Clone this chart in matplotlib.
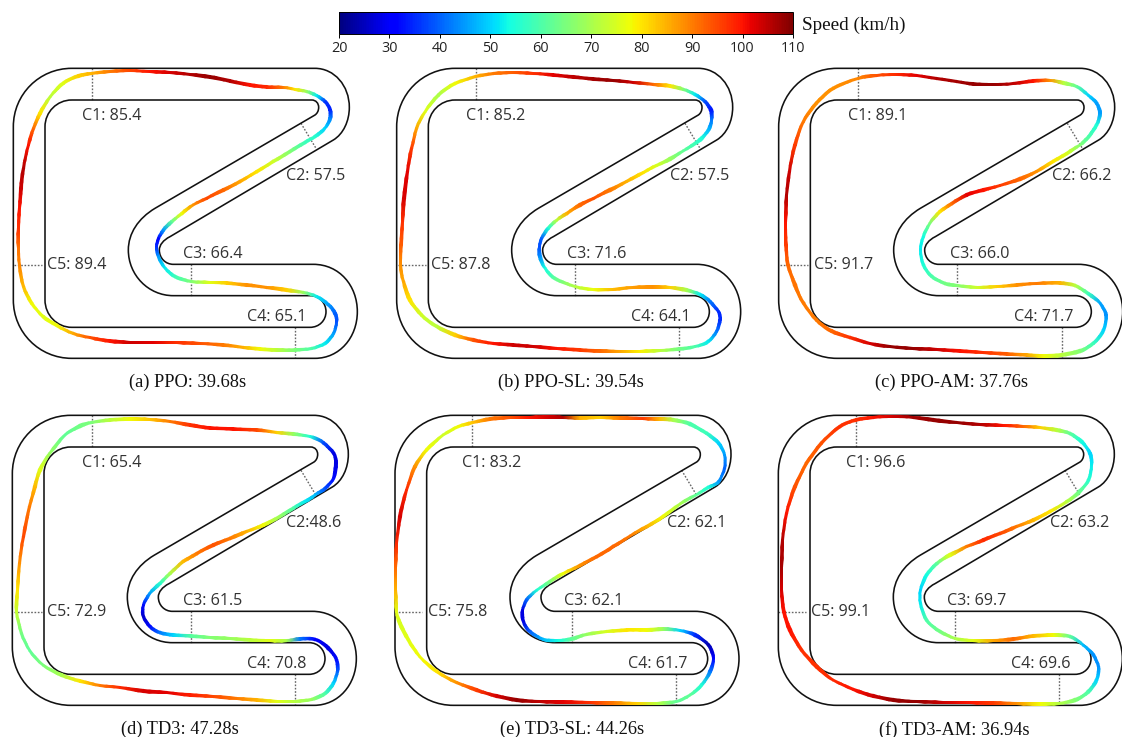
from __future__ import annotations

import matplotlib

matplotlib.use("Agg")
import matplotlib.pyplot as plt
import numpy as np
from matplotlib.cm import ScalarMappable
from matplotlib.colors import Normalize
from matplotlib.patches import PathPatch
from matplotlib.path import Path

# racing lines in track units (1 unit = 1/3 px), speed in km/h
PPO_X = [275, 330, 390, 450, 510, 570, 630, 690, 750, 800, 850, 885, 920, 950, 975, 990, 990, 975, 945, 915, 870, 820, 770, 720, 670, 620, 580, 545, 515, 490, 475, 470, 475, 495, 525, 575, 630, 680, 740, 800, 860, 910, 950, 985, 1005, 1010, 1000, 975, 935, 885, 830, 780, 730, 670, 600, 530, 460, 390, 330, 270, 220, 170, 130, 95, 70, 58, 55, 55, 58, 63, 70, 85, 100, 120, 150, 190, 235, 275]
PPO_Y = [55, 49, 47, 50, 53, 58, 66, 78, 90, 96, 97, 103, 110, 122, 140, 165, 190, 220, 245, 262, 290, 320, 350, 380, 405, 430, 450, 475, 500, 525, 550, 575, 605, 640, 665, 680, 682, 684, 690, 697, 705, 712, 725, 748, 775, 800, 835, 865, 880, 885, 885, 882, 877, 870, 865, 863, 863, 862, 858, 848, 835, 812, 785, 745, 695, 630, 580, 520, 460, 400, 340, 270, 220, 175, 125, 85, 63, 55]
PPO_SPEED = [85, 90, 95, 100, 103, 106, 108, 106, 100, 98, 90, 80, 68, 52, 36, 34, 43, 50, 56, 58, 66, 74, 80, 86, 92, 95, 88, 78, 62, 45, 30, 35, 45, 52, 58, 66, 76, 82, 88, 88, 82, 68, 52, 45, 40, 38, 45, 52, 60, 65, 72, 78, 85, 90, 94, 97, 102, 104, 100, 94, 86, 78, 76, 78, 84, 89, 91, 97, 100, 104, 106, 100, 92, 80, 72, 76, 82, 85]

PPO_SL_X = [287, 340, 400, 460, 520, 580, 640, 700, 760, 820, 870, 910, 945, 975, 993, 995, 985, 965, 945, 910, 870, 830, 790, 740, 690, 640, 600, 560, 530, 505, 485, 478, 480, 495, 525, 585, 640, 700, 760, 820, 870, 920, 960, 990, 1015, 1020, 1010, 985, 945, 897, 840, 780, 720, 660, 600, 530, 460, 400, 340, 280, 225, 170, 125, 90, 70, 62, 63, 67, 72, 82, 95, 110, 135, 175, 225, 287]
PPO_SL_Y = [65, 56, 53, 55, 60, 66, 72, 77, 82, 88, 93, 103, 118, 140, 165, 195, 225, 250, 265, 288, 312, 332, 352, 380, 405, 430, 450, 475, 495, 520, 550, 575, 605, 640, 670, 695, 703, 703, 697, 696, 697, 705, 718, 740, 770, 795, 830, 860, 875, 882, 887, 889, 889, 888, 885, 880, 875, 870, 865, 855, 840, 815, 780, 735, 680, 630, 570, 500, 430, 350, 280, 220, 170, 120, 85, 65]
PPO_SL_SPEED = [85, 90, 93, 97, 102, 105, 107, 108, 104, 92, 80, 66, 52, 38, 33, 42, 48, 55, 58, 62, 68, 75, 80, 85, 90, 94, 92, 85, 72, 55, 40, 38, 44, 54, 62, 71, 77, 84, 87, 88, 82, 70, 52, 42, 35, 35, 42, 52, 60, 64, 72, 79, 86, 92, 96, 100, 104, 104, 100, 94, 82, 72, 74, 80, 86, 88, 93, 97, 103, 102, 96, 86, 76, 70, 78, 85]

PPO_AM_X = [294, 350, 410, 470, 530, 590, 640, 700, 760, 820, 870, 910, 950, 985, 1010, 1020, 1010, 985, 960, 920, 880, 830, 780, 720, 670, 620, 575, 540, 510, 490, 482, 490, 515, 555, 592, 650, 710, 770, 830, 900, 945, 985, 1020, 1038, 1030, 1000, 960, 905, 850, 800, 740, 670, 600, 530, 460, 390, 330, 270, 215, 170, 130, 105, 84, 78, 77, 80, 88, 105, 130, 170, 220, 294]
PPO_AM_Y = [70, 61, 59, 62, 70, 80, 87, 89, 86, 78, 76, 84, 95, 120, 145, 175, 210, 245, 270, 295, 320, 350, 372, 392, 405, 420, 445, 470, 505, 545, 585, 630, 665, 685, 692, 697, 695, 690, 685, 684, 692, 715, 745, 780, 825, 865, 888, 900, 903, 900, 897, 892, 888, 883, 880, 875, 865, 848, 828, 795, 745, 690, 630, 570, 500, 420, 350, 270, 200, 145, 100, 70]
PPO_AM_SPEED = [89, 94, 98, 102, 106, 107, 108, 108, 105, 100, 88, 72, 62, 50, 45, 45, 55, 60, 66, 75, 80, 88, 92, 96, 100, 102, 92, 80, 65, 54, 52, 55, 60, 64, 66, 74, 82, 88, 90, 85, 72, 58, 46, 44, 50, 58, 66, 72, 78, 86, 93, 97, 100, 104, 108, 108, 103, 97, 92, 90, 90, 91, 92, 96, 100, 106, 104, 96, 90, 88, 88, 89]

TD3_X = [275, 330, 390, 450, 510, 570, 630, 700, 770, 830, 880, 930, 970, 1000, 1008, 1000, 975, 945, 915, 880, 840, 790, 740, 690, 640, 590, 550, 510, 480, 450, 430, 430, 450, 480, 520, 573, 630, 690, 750, 810, 860, 900, 945, 985, 1010, 1012, 1000, 975, 935, 885, 830, 770, 710, 640, 570, 500, 430, 360, 300, 240, 185, 130, 90, 65, 50, 52, 58, 70, 88, 105, 120, 150, 195, 240, 275]
TD3_Y = [68, 60, 57, 59, 65, 75, 84, 87, 90, 97, 102, 110, 128, 160, 190, 235, 265, 285, 305, 325, 350, 375, 395, 415, 435, 460, 485, 520, 550, 580, 615, 650, 680, 698, 705, 708, 712, 716, 720, 722, 722, 717, 718, 745, 780, 815, 850, 880, 898, 904, 904, 900, 895, 890, 885, 878, 873, 862, 856, 843, 825, 795, 752, 700, 636, 570, 490, 410, 320, 260, 210, 160, 105, 78, 68]
TD3_SPEED = [65, 72, 78, 83, 90, 97, 100, 100, 95, 82, 68, 55, 38, 28, 28, 32, 38, 48, 52, 60, 68, 78, 85, 90, 94, 90, 84, 70, 56, 46, 32, 26, 32, 42, 50, 61, 66, 68, 72, 76, 70, 42, 30, 28, 32, 40, 50, 60, 68, 71, 76, 85, 90, 95, 99, 102, 103, 98, 90, 80, 70, 65, 62, 64, 73, 80, 88, 95, 90, 84, 76, 68, 62, 64, 65]

TD3_SL_X = [277, 330, 390, 450, 510, 550, 600, 660, 720, 790, 840, 880, 930, 980, 1015, 1033, 1033, 1015, 985, 947, 900, 850, 800, 750, 700, 650, 600, 550, 510, 470, 440, 428, 430, 450, 490, 535, 575, 620, 680, 740, 800, 850, 900, 945, 985, 1000, 990, 965, 930, 888, 830, 770, 700, 630, 550, 480, 410, 350, 290, 230, 170, 120, 85, 60, 50, 47, 47, 50, 60, 80, 105, 140, 190, 235, 277]
TD3_SL_Y = [68, 57, 53, 52, 51, 52, 54, 53, 54, 56, 57, 60, 72, 100, 130, 165, 205, 245, 262, 285, 312, 350, 380, 408, 440, 470, 497, 520, 545, 570, 600, 630, 665, 695, 718, 722, 717, 703, 695, 690, 690, 687, 692, 705, 735, 775, 815, 855, 885, 905, 910, 910, 909, 908, 906, 905, 900, 888, 870, 848, 815, 770, 720, 670, 636, 570, 500, 430, 350, 270, 200, 150, 105, 80, 68]
TD3_SL_SPEED = [83, 90, 94, 100, 104, 106, 85, 82, 90, 96, 84, 70, 60, 58, 50, 45, 40, 45, 55, 62, 70, 78, 85, 90, 92, 92, 88, 78, 65, 55, 40, 28, 28, 40, 48, 54, 62, 68, 75, 80, 78, 68, 50, 35, 24, 30, 42, 55, 62, 62, 72, 82, 90, 97, 102, 105, 108, 103, 96, 88, 80, 78, 76, 75, 76, 85, 92, 98, 103, 98, 88, 78, 74, 78, 83]

TD3_AM_X = [288, 340, 400, 460, 520, 590, 660, 730, 790, 840, 890, 930, 965, 990, 995, 985, 958, 920, 870, 820, 770, 720, 670, 620, 570, 530, 500, 482, 482, 500, 540, 585, 640, 700, 760, 820, 880, 930, 970, 1000, 1015, 1010, 985, 945, 897, 840, 770, 700, 630, 550, 470, 400, 340, 280, 220, 170, 125, 90, 72, 65, 65, 68, 80, 105, 140, 185, 240, 288]
TD3_AM_Y = [60, 52, 49, 52, 60, 68, 73, 76, 79, 83, 90, 100, 125, 160, 195, 240, 275, 305, 335, 360, 380, 400, 420, 440, 465, 490, 525, 570, 610, 660, 695, 715, 722, 722, 717, 708, 705, 710, 735, 765, 800, 840, 875, 900, 910, 912, 911, 909, 908, 907, 905, 900, 888, 868, 840, 800, 750, 690, 636, 570, 500, 420, 340, 260, 190, 130, 80, 60]
TD3_AM_SPEED = [97, 100, 104, 107, 108, 108, 106, 100, 92, 82, 72, 62, 54, 50, 52, 56, 63, 72, 80, 84, 90, 95, 98, 90, 76, 62, 54, 50, 52, 60, 64, 70, 76, 86, 92, 84, 78, 62, 48, 44, 44, 50, 60, 66, 71, 78, 88, 96, 100, 104, 108, 108, 104, 100, 98, 97, 97, 100, 100, 103, 107, 106, 100, 94, 92, 94, 97, 97]

LINES_X = [PPO_X, PPO_SL_X, PPO_AM_X, TD3_X, TD3_SL_X, TD3_AM_X]
LINES_Y = [PPO_Y, PPO_SL_Y, PPO_AM_Y, TD3_Y, TD3_SL_Y, TD3_AM_Y]
LINES_SPEED = [PPO_SPEED, PPO_SL_SPEED, PPO_AM_SPEED, TD3_SPEED, TD3_SL_SPEED, TD3_AM_SPEED]

CAPTIONS = [
    "(a) PPO: 39.68s",
    "(b) PPO-SL: 39.54s",
    "(c) PPO-AM: 37.76s",
    "(d) TD3: 47.28s",
    "(e) TD3-SL: 44.26s",
    "(f) TD3-AM: 36.94s",
]
CORNER_LABELS = [
    ["C1: 85.4", "C2: 57.5", "C3: 66.4", "C4: 65.1", "C5: 89.4"],
    ["C1: 85.2", "C2: 57.5", "C3: 71.6", "C4: 64.1", "C5: 87.8"],
    ["C1: 89.1", "C2: 66.2", "C3: 66.0", "C4: 71.7", "C5: 91.7"],
    ["C1: 65.4", "C2:48.6", "C3: 61.5", "C4: 70.8", "C5: 72.9"],
    ["C1: 83.2", "C2: 62.1", "C3: 62.1", "C4: 61.7", "C5: 75.8"],
    ["C1: 96.6", "C2: 63.2", "C3: 69.7", "C4: 69.6", "C5: 99.1"],
]
COLORBAR_TICKS = [20, 30, 40, 50, 60, 70, 80, 90, 100, 110]

# panel placement: axes corner in px, then track / marker shifts in track units
PANEL_ORIGINS = [(0, 55), (380, 55), (760, 55), (0, 400), (380, 400), (760, 400)]
TRACK_DX = [0, 10, 16, -3, 5, 15]
TRACK_DY = [0, 0, 0, 6, 6, 6]
MARK_DX = [0, 12, 19, 0, 2, 12]
CAPTION_X = [563, 573, 575, 540, 577, 583]

# track outline for panel (a), both closed loops
M, L, C = Path.MOVETO, Path.LINETO, Path.CURVE4
OUTER = [
    (M, (215, 40)), (L, (945, 40)),
    (C, (1003, 40)), (C, (1048, 92)), (C, (1048, 157)),
    (C, (1048, 198)), (C, (1030, 237)), (C, (1000, 255)),
    (L, (510, 545)),
    (C, (490, 555)), (C, (478, 570)), (C, (478, 585)),
    (C, (478, 610)), (C, (497, 628)), (C, (520, 628)),
    (L, (940, 628)),
    (C, (1018, 628)), (C, (1072, 692)), (C, (1072, 770)),
    (C, (1072, 848)), (C, (1018, 910)), (C, (945, 910)),
    (L, (215, 910)),
    (C, (118, 910)), (C, (40, 832)), (C, (40, 735)),
    (L, (40, 215)),
    (C, (40, 118)), (C, (118, 40)), (C, (215, 40)),
]
INNER = [
    (M, (215, 135)), (L, (935, 135)),
    (C, (948, 135)), (C, (956, 145)), (C, (956, 157)),
    (C, (956, 167)), (C, (952, 175)), (C, (945, 180)),
    (L, (465, 460)),
    (C, (415, 490)), (C, (385, 535)), (C, (385, 585)),
    (C, (385, 660)), (C, (445, 722)), (C, (520, 722)),
    (L, (930, 722)),
    (C, (958, 722)), (C, (978, 744)), (C, (978, 770)),
    (C, (978, 796)), (C, (958, 817)), (C, (930, 817)),
    (L, (215, 817)),
    (C, (171, 817)), (C, (135, 780)), (C, (135, 735)),
    (L, (135, 215)),
    (C, (135, 171)), (C, (171, 135)), (C, (215, 135)),
]
DOTTED = [
    ((275, 275), (40, 135)),
    ((903, 948), (205, 280)),
    ((573, 573), (628, 722)),
    ((886, 886), (817, 910)),
    ((42, 125), (630, 630)),
]
LABEL_POS = [(245, 183), (858, 362), (550, 597), (742, 786), (142, 630)]

W, H = 1122, 737
NORM = Normalize(20, 110)
LINE_HALF = 5.2
MESH_HALF = 13


def draw_track(ax, dx, dy):
    for loop in (OUTER, INNER):
        codes = [c for c, _ in loop]
        verts = [(p[0] + dx, p[1] + dy) for _, p in loop]
        ax.add_patch(PathPatch(Path(verts, codes), fill=False, edgecolor="#111111", linewidth=1.15, zorder=2))


def normals(p):
    t = np.roll(p, -1, axis=0) - np.roll(p, 1, axis=0)
    t = t / np.linalg.norm(t, axis=1, keepdims=True)
    return np.column_stack([-t[:, 1], t[:, 0]])


def closed_curve(p):
    # bezier loop through the read points, matplotlib does the curve drawing
    verts = [p[0]]
    codes = [Path.MOVETO]
    n = len(p)
    for k in range(n):
        a, b, c, d = p[k - 1], p[k], p[(k + 1) % n], p[(k + 2) % n]
        verts += [b + (c - a) / 6, c - (d - b) / 6, c]
        codes += [Path.CURVE4] * 3
    verts.append(p[0])
    codes.append(Path.CLOSEPOLY)
    return verts, codes


def draw_racing_line(ax, xs, ys, speed):
    # gouraud strip gives the colour run between points, stroke shape is the clip
    p = np.column_stack([xs, ys], ).astype(float)[:-1]
    nrm = normals(p)
    ring = np.vstack([p, p[:1]])
    nrm_ring = np.vstack([nrm, nrm[:1]])
    mesh_x = np.vstack([ring[:, 0] - MESH_HALF * nrm_ring[:, 0], ring[:, 0] + MESH_HALF * nrm_ring[:, 0]])
    mesh_y = np.vstack([ring[:, 1] - MESH_HALF * nrm_ring[:, 1], ring[:, 1] + MESH_HALF * nrm_ring[:, 1]])
    c = np.vstack([speed, speed]).astype(float)
    mesh = ax.pcolormesh(mesh_x, mesh_y, c, shading="gouraud", cmap="jet", norm=NORM, zorder=3)

    v1, c1 = closed_curve(p + LINE_HALF * nrm)
    v2, c2 = closed_curve((p - LINE_HALF * nrm)[::-1])
    mesh.set_clip_path(Path(np.array(v1 + v2), c1 + c2), ax.transData)


def draw_panel(i):
    x0, y0 = PANEL_ORIGINS[i]
    ax = plt.gcf().add_axes([x0 / W, 1 - (y0 + 340) / H, 375 / W, 340 / H])
    ax.set_xlim(0, 1125)
    ax.set_ylim(1020, 0)
    ax.set_axis_off()

    dy = TRACK_DY[i]
    draw_track(ax, TRACK_DX[i], dy)

    mdx = MARK_DX[i]
    for xs, ys in DOTTED:
        ax.plot([x + mdx for x in xs], [y + dy for y in ys], color="#666666", lw=1.0, ls=(0, (1.2, 1.2)), zorder=1)
    for text, (lx, ly) in zip(CORNER_LABELS[i], LABEL_POS):
        ax.text(lx + mdx, ly + dy, text, fontsize=11.6, color="#333333", family="Open Sans", va="center", ha="left")

    draw_racing_line(ax, LINES_X[i], LINES_Y[i], LINES_SPEED[i])

    ax.text(CAPTION_X[i], 983 + dy, CAPTIONS[i], fontsize=13.2, family="Liberation Serif", color="#111111",
            ha="center", va="center", clip_on=False)


def main():
    fig = plt.figure(figsize=(W / 100, H / 100), dpi=100, facecolor="white")
    for i in range(6):
        draw_panel(i)

    cax = fig.add_axes([339 / W, 1 - 34 / H, 454 / W, 22 / H])
    cb = fig.colorbar(ScalarMappable(norm=NORM, cmap="jet"), cax=cax, orientation="horizontal")
    cb.set_ticks(COLORBAR_TICKS)
    cb.ax.tick_params(labelsize=10.4, length=3, width=0.7, pad=2, labelcolor="#222222")
    cb.outline.set_linewidth(0.7)
    for lab in cb.ax.get_xticklabels():
        lab.set_family("Open Sans")
    fig.text(802 / W, 1 - 25 / H, "Speed (km/h)", fontsize=13.8, family="Liberation Serif", color="#111111", va="center")

    fig.savefig("out.png", dpi=100)


if __name__ == "__main__":
    main()
